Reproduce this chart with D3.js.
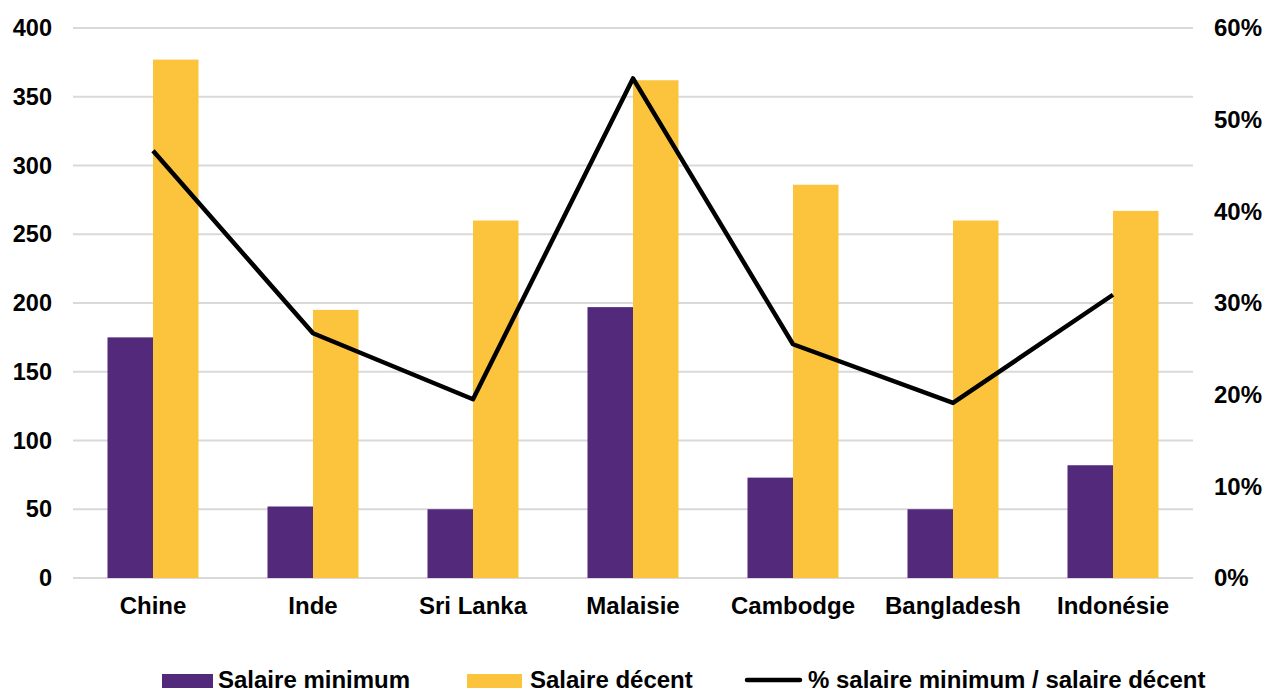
<!DOCTYPE html>
<html>
<head>
<meta charset="utf-8">
<script src="https://cdn.jsdelivr.net/npm/d3@7"></script>
<style>
  body { margin: 0; background: #fff; }
  svg { display: block; font-family: "Liberation Sans", Arial, sans-serif; font-weight: bold; }
</style>
</head>
<body>
<svg id="chart" width="1264" height="688"></svg>
<script>
const categories = ["Chine", "Inde", "Sri Lanka", "Malaisie", "Cambodge", "Bangladesh", "Indonésie"];
const salaireMinimum = [175, 52, 50, 197, 73, 50, 82];
const salaireDecent = [377, 195, 260, 362, 286, 260, 267];
const ratio = [0.466, 0.267, 0.195, 0.545, 0.255, 0.191, 0.309];
const leftTicks = [0, 50, 100, 150, 200, 250, 300, 350, 400];
const rightTicks = [0, 0.1, 0.2, 0.3, 0.4, 0.5, 0.6];

const svg = d3.select("#chart");
const plotLeft = 73, plotRight = 1193, plotTop = 28, plotBottom = 578;

const x = d3.scaleBand().domain(categories).range([plotLeft, plotRight]);
const sub = d3.scaleBand().domain(["min", "dec"]).range([0, 91]);
const y = d3.scaleLinear().domain([0, 400]).range([plotBottom, plotTop]);
const y2 = d3.scaleLinear().domain([0, 0.6]).range([plotBottom, plotTop]);

// gridlines
svg.append("g")
  .selectAll("line")
  .data(leftTicks)
  .enter()
  .append("line")
  .attr("x1", plotLeft)
  .attr("x2", plotRight)
  .attr("y1", d => y(d))
  .attr("y2", d => y(d))
  .attr("stroke", "#d9d9d9")
  .attr("stroke-width", 2);

// left axis
const yAxis = svg.append("g")
  .attr("transform", `translate(${plotLeft},0)`)
  .call(d3.axisLeft(y).tickValues(leftTicks).tickSize(0).tickPadding(21));
yAxis.select(".domain").remove();
yAxis.selectAll("text").attr("font-size", 23.5).attr("font-family", null).attr("fill", "#000");

// right axis
const y2Axis = svg.append("g")
  .attr("transform", `translate(${plotRight},0)`)
  .call(d3.axisRight(y2).tickValues(rightTicks).tickFormat(d3.format(".0%")).tickSize(0).tickPadding(21));
y2Axis.select(".domain").remove();
y2Axis.selectAll("text").attr("font-size", 24).attr("font-family", null).attr("fill", "#000");

// x axis labels
const xAxis = svg.append("g")
  .attr("transform", `translate(0,${plotBottom})`)
  .call(d3.axisBottom(x).tickSize(0).tickPadding(19));
xAxis.select(".domain").remove();
xAxis.selectAll("text").attr("font-size", 24).attr("font-family", null).attr("fill", "#000");

// bars
const groups = svg.append("g")
  .selectAll("g")
  .data(categories)
  .enter()
  .append("g")
  .attr("transform", d => `translate(${x(d) + x.bandwidth() / 2 - 45.5},0)`);

groups.append("rect")
  .attr("x", sub("min"))
  .attr("width", sub.bandwidth())
  .attr("y", (d, i) => y(salaireMinimum[i]))
  .attr("height", (d, i) => plotBottom - y(salaireMinimum[i]))
  .attr("fill", "#53297b");

groups.append("rect")
  .attr("x", sub("dec"))
  .attr("width", sub.bandwidth())
  .attr("y", (d, i) => y(salaireDecent[i]))
  .attr("height", (d, i) => plotBottom - y(salaireDecent[i]))
  .attr("fill", "#fcc43c");

// ratio line
const line = d3.line()
  .x((d, i) => x(categories[i]) + x.bandwidth() / 2)
  .y(d => y2(d));

svg.append("path")
  .datum(ratio)
  .attr("d", line)
  .attr("fill", "none")
  .attr("stroke", "#000")
  .attr("stroke-width", 4.5)
  .attr("stroke-linejoin", "round");

// legend
const legend = svg.append("g").attr("font-size", 24);
legend.append("rect").attr("x", 162).attr("y", 674).attr("width", 51).attr("height", 14).attr("fill", "#53297b");
legend.append("text").attr("x", 218).attr("y", 688).text("Salaire minimum");
legend.append("rect").attr("x", 467).attr("y", 674).attr("width", 55).attr("height", 14).attr("fill", "#fcc43c");
legend.append("text").attr("x", 530).attr("y", 688).text("Salaire décent");
legend.append("line").attr("x1", 747).attr("x2", 800).attr("y1", 680).attr("y2", 680)
  .attr("stroke", "#000").attr("stroke-width", 4.5).attr("stroke-linecap", "round");
legend.append("text").attr("x", 808).attr("y", 688).text("% salaire minimum / salaire décent");
</script>
</body>
</html>
